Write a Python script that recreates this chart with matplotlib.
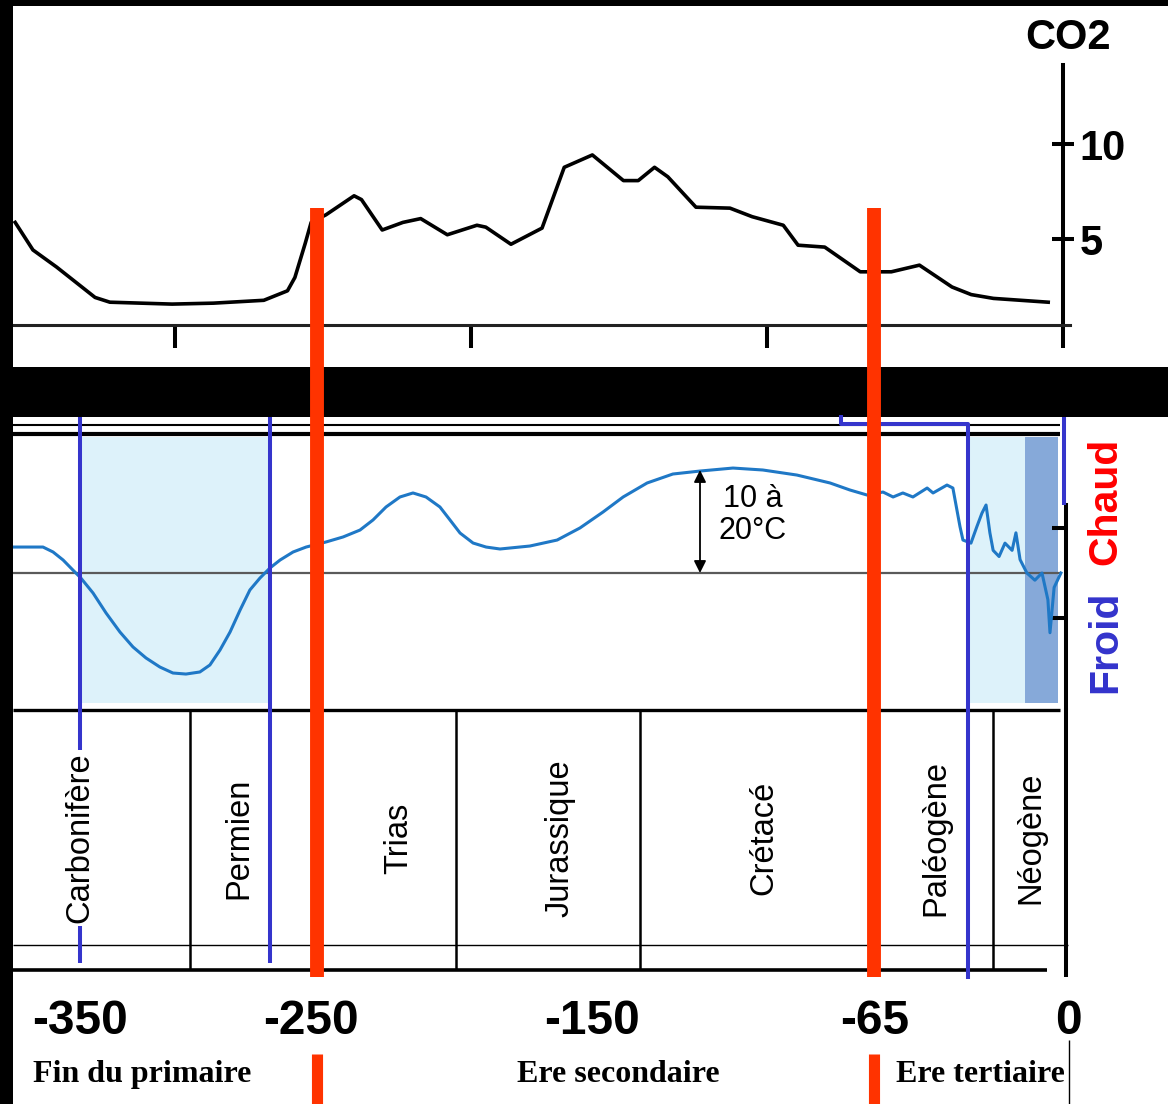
import matplotlib.pyplot as plt

# --- data (ages in Ma, negative = past) ---
co2_age = [-354, -348, -340, -327, -322, -301, -287, -270, -262, -259.5, -256, -254,
           -249, -239.5, -237, -230, -223, -217, -208, -198, -195, -186.5, -176,
           -168.5, -159, -148.5, -143.5, -138, -133.5, -124, -112.5, -105, -94.5,
           -89.5, -80.5, -68.5, -58, -48.5, -37.5, -31, -23.5, -5]
co2_level = [5.9, 4.45, 3.55, 1.95, 1.7, 1.6, 1.65, 1.8, 2.3, 3.0, 4.8, 5.9,
             6.3, 7.3, 7.1, 5.5, 5.9, 6.1, 5.25, 5.75, 5.65, 4.75, 5.6,
             8.8, 9.45, 8.1, 8.1, 8.8, 8.3, 6.7, 6.65, 6.2, 5.75,
             4.7, 4.6, 3.3, 3.3, 3.65, 2.5, 2.1, 1.9, 1.7]
co2_ticks = [5, 10]
co2_age_ticks = [-300, -200, -100, 0]

temp_age = [-354.7, -351.4, -344.6, -341.2, -337.8, -334.5, -331.8, -327.7, -323.3,
            -318.6, -314.2, -309.8, -305.1, -300.7, -296.3, -291.6, -288.2, -284.8,
            -281.4, -278.0, -274.7, -271.3, -267.9, -264.5, -260.1, -255.7, -249.0,
            -243.2, -237.5, -233.1, -228.7, -224.0, -219.6, -215.2, -210.5, -207.1,
            -203.7, -199.3, -194.9, -190.2, -180.1, -170.9, -163.2, -155.4, -148.6,
            -140.5, -131.8, -122.6, -111.5, -101.4, -89.9, -78.7, -72.0, -66.2,
            -60.8, -57.4, -54.1, -50.7, -45.9, -43.9, -39.2, -37.2, -34.8, -33.8,
            -31.1, -29.1, -27.4, -26, -24.7, -23.6, -21.6, -19.6, -17.2, -15.9,
            -14.5, -12.2, -9.5, -7.1, -5.1, -4.4, -3, -0.7]
temp_anom = [2.52, 2.52, 2.52, 2.04, 1.26, 0.29, -0.49, -1.94, -3.88,
             -5.73, -7.18, -8.25, -9.13, -9.71, -9.81, -9.61, -8.93, -7.48,
             -5.73, -3.59, -1.65, -0.49, 0.49, 1.26, 2.04, 2.52, 3.01,
             3.50, 4.17, 5.15, 6.41, 7.38, 7.77, 7.38, 6.41, 5.15,
             3.88, 2.91, 2.52, 2.33, 2.62, 3.20, 4.37, 5.92, 7.38,
             8.74, 9.61, 9.90, 10.19, 10.0, 9.51, 8.74, 8.06, 7.57,
             7.86, 7.38, 7.77, 7.38, 8.25, 7.77, 8.54, 8.25, 4.5, 3.2,
             2.9, 4.5, 5.8, 6.6, 3.9, 2.2, 1.6, 2.9, 2.2, 3.9,
             1.3, 0.0, -0.7, 0.0, -2.6, -5.8, -1.4, 0.0]
temp_ticks = [-4.4, 4.4]

glacial_periods = [(-332, -268), (-32, -13)]
recent_glacial = (-13, -1.7)
periods = ['Carbonifère', 'Permien', 'Trias', 'Jurassique', 'Crétacé', 'Paléogène', 'Néogène']
period_bounds = [-295, -252, -205, -143, -64, -23.5]
period_label_x = [-332, -278.5, -224.5, -170, -101, -43, -11]
extinctions = [-252, -64]
age_labels = ['-350', '-250', '-150', '-65', '0']
age_label_x = [-332, -254, -159, -63.5, 2]
eras = ['Fin du primaire', 'Ere secondaire', 'Ere tertiaire']

# --- layout helpers (pixel grid of the 1168x1104 picture) ---
W, H = 1168, 1104
X0, PXMA = 1063, 2.96


def px2ma(px):
    return (px - X0) / PXMA


def band(top, bottom):
    return [0, 1 - bottom / H, 1, (bottom - top) / H]


xlim = (px2ma(0), px2ma(W))
SANS = 'Liberation Sans'
SERIF = 'Liberation Serif'
RED = '#ff3300'
BLUE = '#3535cc'

fig = plt.figure(figsize=(W / 100, H / 100), dpi=100)
fig.patch.set_facecolor('white')

# CO2 panel
ax_c = fig.add_axes(band(65, 325))
ax_c.set_facecolor('none')
ax_c.set_xlim(xlim)
ax_c.set_ylim(0.5, 0.5 + 260 / 19)
ax_c.plot(co2_age, co2_level, color='black', lw=2.6)
ax_c.spines['top'].set_visible(False)
ax_c.spines['left'].set_visible(False)
ax_c.spines['bottom'].set_bounds(px2ma(13), px2ma(1070))
ax_c.spines['bottom'].set_linewidth(2.2)
ax_c.spines['bottom'].set_color('#222222')
ax_c.spines['right'].set_position(('data', 0))
ax_c.spines['right'].set_bounds(0.5, 0.5 + 260 / 19)
ax_c.spines['right'].set_linewidth(2.9)
ax_c.set_xticks(co2_age_ticks)
ax_c.tick_params(axis='x', direction='out', length=16.5, width=2.9, labelbottom=False)
ax_c.yaxis.tick_right()
ax_c.set_yticks(co2_ticks)
ax_c.tick_params(axis='y', direction='inout', length=16, width=2.9, pad=4, labelsize=30)
for lbl in ax_c.get_yticklabels():
    lbl.set_fontweight('bold')
    lbl.set_family(SANS)
fig.text(1068 / W, 1 - 38 / H, 'CO2', ha='center', va='center', fontsize=30,
         fontweight='bold', family=SANS)

# temperature panel
ax_t = fig.add_axes(band(437, 708))
ax_t.set_facecolor('none')
ax_t.set_xlim(xlim)
ax_t.set_ylim((573 - 708) / 10.3, (573 - 437) / 10.3)
for a, b in glacial_periods:
    ax_t.axvspan(a, b, ymin=0.018, ymax=1, color='#ddf2fa', lw=0)
ax_t.axvspan(*recent_glacial, ymin=0.018, ymax=1, color='#86a9d9', lw=0)
ax_t.axhline(0, xmin=13 / W, xmax=1060 / W, color='#5a5a5a', lw=1.6)
ax_t.plot(temp_age, temp_anom, color='#1f78c6', lw=2.2)
ax_t.annotate('', xy=(px2ma(700), 10.0), xytext=(px2ma(700), 0),
              arrowprops=dict(arrowstyle='<|-|>', color='black', lw=1.3,
                              mutation_scale=18, shrinkA=0, shrinkB=0))
ax_t.text(px2ma(753), 5.6, '10 à\n20°C', ha='center', va='center', fontsize=22,
          family=SANS, linespacing=1.1)
for s in ['top', 'left', 'bottom']:
    ax_t.spines[s].set_visible(False)
ax_t.spines['right'].set_position(('data', px2ma(1065.5)))
ax_t.spines['right'].set_bounds((573 - 708) / 10.3, (573 - 505) / 10.3)
ax_t.spines['right'].set_linewidth(2.9)
ax_t.set_xticks([])
ax_t.yaxis.tick_right()
ax_t.set_yticks(temp_ticks)
ax_t.tick_params(axis='y', direction='in', length=10, width=2.9, labelright=False)

# overlay in pixel rows for frame, table and markers
ov = fig.add_axes([0, 0, 1, 1])
ov.set_xlim(xlim)
ov.set_ylim(H, 0)
ov.axis('off')
ov.set_zorder(5)

ov.axhspan(0, 6, color='black', lw=0)
ov.axhspan(367, 417, color='black', lw=0)
ov.axvspan(xlim[0], px2ma(13), color='black', lw=0)

ov.hlines(425, px2ma(13), px2ma(1060), color='black', lw=1.5)
ov.hlines(433.5, px2ma(13), px2ma(1060), color='black', lw=3)
ov.hlines(710, px2ma(13), px2ma(1060), color='black', lw=2.4)
ov.hlines(944.5, px2ma(13), px2ma(1068), color='black', lw=1.0)
ov.hlines(970, px2ma(13), px2ma(1047), color='black', lw=2.6)
ov.vlines(period_bounds, 710, 970, color='black', lw=1.8)

ov.vlines(list(glacial_periods[0]), 417, 963, color=BLUE, lw=2.9, zorder=3)
ov.plot([px2ma(841), px2ma(841), glacial_periods[1][0], glacial_periods[1][0]],
        [417, 424, 424, 977], color=BLUE, lw=2.9, zorder=3)
ov.vlines(px2ma(1064), 417, 505, color=BLUE, lw=2.9, zorder=3)
ov.vlines(px2ma(1065.5), 708, 977, color='black', lw=2.9, zorder=3)

ov.vlines(extinctions, 208, 977, color=RED, lw=10, zorder=4)
ov.vlines(extinctions, 1054, 1104, color=RED, lw=8, zorder=4)

for name, x in zip(periods, period_label_x):
    ov.text(x, 838, name, rotation=90, ha='center', va='center', fontsize=23.5,
            family=SANS, zorder=6,
            bbox=dict(facecolor='white', edgecolor='none', pad=2))

ov.text(px2ma(1105), 501, 'Chaud', rotation=90, ha='center', va='center',
        fontsize=29.5, fontweight='bold', color='#ff0000', family=SANS)
ov.text(px2ma(1105), 642, 'Froid', rotation=90, ha='center', va='center',
        fontsize=29.5, fontweight='bold', color='#3333cc', family=SANS)

for lbl, x in zip(age_labels, age_label_x):
    ov.text(x, 1034, lbl, ha='center', va='baseline', fontsize=34.5,
            fontweight='bold', family=SANS)

ov.text(px2ma(33), 1082, eras[0], ha='left', va='baseline', fontsize=23,
        fontweight='bold', family=SERIF)
ov.text(px2ma(618), 1082, eras[1], ha='center', va='baseline', fontsize=23,
        fontweight='bold', family=SERIF)
ov.text(px2ma(896), 1082, eras[2], ha='left', va='baseline', fontsize=23,
        fontweight='bold', family=SERIF)
ov.vlines(px2ma(1068.5), 1040, 1104, color='black', lw=1.0)

fig.savefig('out.png', dpi=100)
